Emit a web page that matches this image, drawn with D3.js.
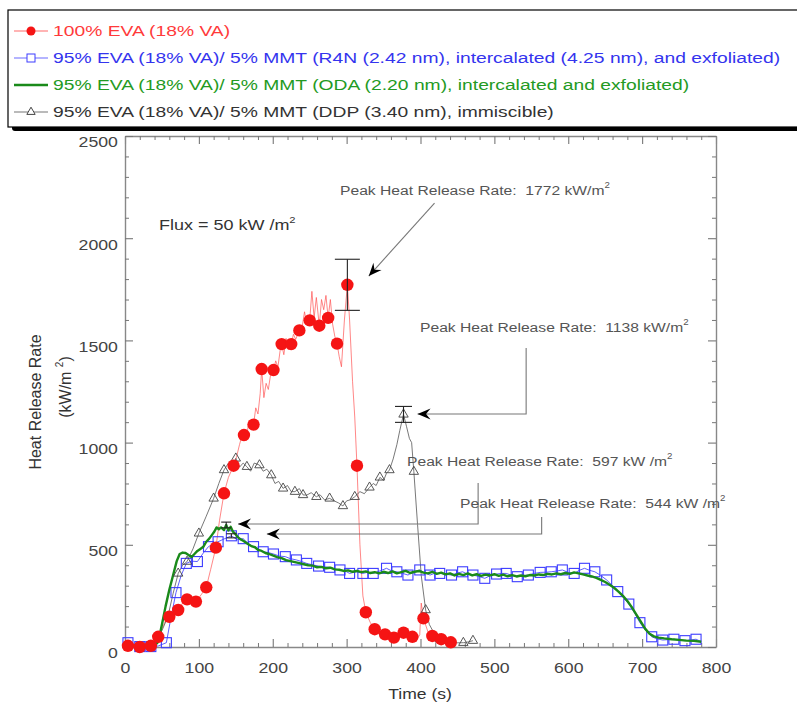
<!DOCTYPE html>
<html>
<head>
<meta charset="utf-8">
<script src="https://cdn.jsdelivr.net/npm/d3@7"></script>
<style>
  html, body { margin: 0; padding: 0; background: #fff; }
  svg { display: block; }
  text { white-space: pre; }
</style>
</head>
<body>
<script>
// ---- Heat release rate data (time in s, HRR in kW/m^2) ----

// 100% EVA (18% VA): plotted symbols and the underlying noisy trace
const evaMarkers = [[4,6],[20,0],[35,6],[45,50],[60,148],[72,181],[84,233],[96,222],[110,292],[123,486],[134,752],[147,887],[161,1037],[174,1088],[185,1360],[201,1355],[212,1482],[225,1482],[236,1549],[250,1598],[263,1572],[275,1610],[287,1484],[301,1772],[314,887],[326,170],[338,87],[352,62],[364,46],[377,70],[389,50],[404,140],[416,54],[428,38],[441,23]];
const evaTrace = [[0,10],[4,6],[8,2],[12,4],[20,0],[28,4],[35,6],[40,15],[45,50],[50,90],[55,130],[60,148],[66,165],[72,181],[78,215],[84,233],[90,228],[96,222],[103,255],[110,292],[116,380],[123,486],[128,620],[134,752],[140,830],[147,887],[151,930],[155,990],[158,1030],[161,1037],[164,1010],[167,1090],[170,1070],[174,1088],[177,1170],[180,1140],[183,1240],[185,1360],[188,1220],[191,1290],[194,1260],[197,1330],[201,1355],[204,1400],[207,1370],[210,1450],[212,1482],[215,1430],[218,1510],[221,1455],[225,1482],[228,1530],[231,1505],[236,1549],[240,1570],[243,1640],[246,1580],[250,1598],[253,1740],[256,1610],[259,1710],[263,1572],[266,1700],[269,1650],[272,1720],[275,1610],[278,1700],[281,1580],[284,1520],[287,1484],[290,1420],[293,1371],[297,1600],[301,1772],[304,1600],[308,1300],[311,1125],[314,887],[318,500],[322,250],[326,170],[332,120],[338,87],[345,72],[352,62],[358,55],[364,46],[370,58],[377,70],[383,60],[389,50],[395,35],[399,60],[401,215],[404,140],[410,75],[416,54],[422,45],[428,38],[435,30],[441,23]];

// 95% EVA / 5% MMT (R4N)
const r4nMarkers = [[4,21],[20,2],[35,2],[56,21],[69,266],[83,409],[98,418],[113,491],[126,515],[144,544],[160,530],[174,491],[187,466],[201,455],[217,442],[232,426],[246,409],[262,396],[277,390],[291,377],[304,360],[322,360],[336,360],[354,385],[368,368],[383,352],[399,377],[413,352],[426,360],[442,352],[457,368],[471,352],[487,336],[503,357],[516,360],[531,344],[546,352],[562,365],[577,368],[592,377],[608,360],[622,385],[636,368],[652,328],[667,271],[682,210],[697,119],[713,50],[728,34],[743,38],[758,31],[773,38]];
const r4nTrace = [[0,20],[4,21],[12,10],[20,2],[35,2],[45,5],[56,21],[62,140],[69,266],[76,350],[83,409],[90,420],[98,418],[106,460],[113,491],[120,505],[126,515],[135,530],[144,544],[152,525],[160,530],[167,505],[174,491],[180,480],[187,466],[194,462],[201,455],[209,445],[217,442],[224,432],[232,426],[239,418],[246,409],[254,402],[262,396],[270,392],[277,390],[284,382],[291,377],[298,372],[304,360],[313,368],[322,360],[329,366],[336,360],[345,372],[354,385],[361,372],[368,368],[376,360],[383,352],[391,368],[399,377],[406,362],[413,352],[420,362],[426,360],[434,356],[442,352],[450,362],[457,368],[464,356],[471,352],[479,345],[487,336],[495,350],[503,357],[510,360],[516,360],[524,350],[531,344],[539,350],[546,352],[554,360],[562,365],[570,366],[577,368],[585,372],[592,377],[600,365],[608,360],[615,375],[622,385],[629,375],[636,368],[644,350],[652,328],[660,300],[667,271],[675,240],[682,210],[690,165],[697,119],[705,80],[713,50],[720,40],[728,34],[735,36],[743,38],[750,33],[758,31],[766,35],[773,38],[780,26]];

// 95% EVA / 5% MMT (ODA)
const odaTrace = [[0,12],[10,8],[20,4],[30,4],[40,6],[45,25],[50,110],[55,200],[60,280],[65,350],[70,420],[74,455],[78,462],[82,460],[86,450],[90,440],[94,455],[98,470],[102,480],[106,490],[110,515],[114,530],[118,550],[121,565],[124,585],[127,576],[130,585],[134,572],[137,597],[140,570],[143,588],[146,565],[149,555],[152,540],[156,528],[160,520],[164,510],[168,500],[172,492],[176,488],[180,475],[185,470],[190,460],[195,455],[200,448],[206,440],[212,435],[218,425],[224,420],[230,415],[236,410],[242,405],[248,400],[254,398],[260,390],[266,392],[272,385],[278,388],[284,380],[290,378],[296,372],[302,375],[308,368],[314,372],[320,366],[326,370],[332,362],[338,366],[344,360],[350,368],[356,362],[362,370],[368,360],[374,366],[380,372],[386,362],[392,368],[398,372],[404,364],[410,360],[416,368],[422,358],[428,364],[434,355],[440,360],[446,350],[452,358],[458,352],[464,360],[470,350],[476,356],[482,348],[488,354],[494,350],[500,356],[506,348],[512,354],[518,346],[524,352],[530,345],[536,350],[542,346],[548,352],[554,350],[560,355],[566,352],[572,358],[578,355],[584,360],[590,356],[596,362],[602,358],[608,365],[614,360],[620,355],[626,350],[632,345],[638,338],[644,328],[650,318],[656,305],[662,290],[668,271],[674,250],[680,225],[686,195],[692,160],[698,125],[704,90],[710,65],[716,52],[722,46],[730,42],[740,38],[750,35],[760,31],[770,30],[780,26]];

// 95% EVA / 5% MMT (DDP)
const ddpMarkers = [[4,8],[20,0],[35,6],[58,148],[72,360],[84,418],[100,556],[120,727],[134,866],[150,923],[165,882],[182,890],[198,841],[214,776],[230,760],[241,744],[259,735],[277,727],[295,690],[311,735],[331,781],[345,830],[358,866],[377,1138],[391,858],[407,181],[426,38],[458,21],[471,31]];
const ddpTrace = [[0,10],[4,8],[12,4],[20,0],[28,3],[35,6],[42,25],[50,80],[58,148],[65,260],[72,360],[78,400],[84,418],[92,480],[100,556],[110,640],[120,727],[127,800],[134,866],[140,900],[145,880],[150,923],[155,880],[160,900],[165,882],[170,860],[175,900],[182,890],[187,860],[192,870],[198,841],[203,800],[208,810],[214,776],[220,790],[225,760],[230,760],[236,775],[241,744],[246,743],[252,755],[259,735],[264,745],[270,720],[277,727],[283,715],[289,705],[295,690],[300,715],[305,720],[311,735],[318,760],[324,750],[331,781],[336,800],[340,790],[345,830],[350,815],[354,850],[358,866],[363,920],[368,990],[372,1060],[377,1138],[381,1080],[385,1020],[388,1000],[391,858],[396,600],[401,350],[407,181],[412,110],[418,70],[426,38],[435,25],[445,20],[458,21],[465,25],[471,31]];

// Peak error bars: [time, peak, half-range]
const peakBars = [[301,1772,125],[377,1138,39],[137,597,14],[144,544,10]];

// Legend entries
const legendLabels = [
  "100% EVA (18% VA)",
  "95% EVA (18% VA)/ 5% MMT (R4N (2.42 nm), intercalated (4.25 nm), and exfoliated)",
  "95% EVA (18% VA)/ 5% MMT (ODA (2.20 nm), intercalated and exfoliated)",
  "95% EVA (18% VA)/ 5% MMT (DDP (3.40 nm), immiscible)"
];

// Axis ticks
const xMajorTicks = [0,100,200,300,400,500,600,700,800];
const yMajorTicks = [0,500,1000,1500,2000,2500];

// Peak callouts: label text and units
const peakLabels = ["Peak Heat Release Rate:  1772 kW/m", "Peak Heat Release Rate:  1138 kW/m", "Peak Heat Release Rate:  597 kW /m", "Peak Heat Release Rate:  544 kW /m"];

// ---- Drawing ----
const W = 797, H = 708;
const svg = d3.select("body").append("svg").attr("width", W).attr("height", H)
  .style("font-family", "'Liberation Sans', Arial, sans-serif");

const defs = svg.append("defs");
defs.append("marker").attr("id", "head").attr("viewBox", "-14 -6 15 12")
  .attr("refX", 0).attr("refY", 0).attr("markerWidth", 15).attr("markerHeight", 12)
  .attr("markerUnits", "userSpaceOnUse").attr("orient", "auto")
  .append("path").attr("d", "M0,0 L-13,-5.5 L-8.5,0 L-13,5.5 Z").attr("fill", "#000");

const x = d3.scaleLinear().domain([0, 800]).range([125, 716]);
const y = d3.scaleLinear().domain([0, 2500]).range([647, 136]);

// stretched text helper; parts = [[string, isSuperscript], ...]
function label(g, px, py, parts, o) {
  const t = g.append("text")
    .attr("transform", `translate(${px},${py}) scale(${o.sx || 1},1)`)
    .attr("font-size", o.size).attr("fill", o.fill || "#333")
    .attr("text-anchor", o.anchor || "start");
  let raised = false;
  parts.forEach(([s, sup]) => {
    const ts = t.append("tspan").text(s);
    if (sup) { ts.attr("font-size", o.size * 0.62).attr("dy", -o.size * 0.5); raised = true; }
    else if (raised) { ts.attr("dy", o.size * 0.5); raised = false; }
  });
  return t;
}

// ---- Axes frame ----
const axisColor = "#888";
const frame = svg.append("g");
function styleAxis(g) {
  g.select(".domain").attr("stroke", axisColor).attr("stroke-width", 1.4);
  g.selectAll(".tick line").attr("stroke", "#777").attr("stroke-width", 1.1);
}
const xMinor = d3.range(0, 801, 20).filter(v => v % 100 !== 0);
const yMinor = d3.range(0, 2501, 100).filter(v => v % 500 !== 0);

// bottom
const gB = frame.append("g").attr("transform", `translate(0,${y(0)})`)
  .call(d3.axisBottom(x).tickValues(xMajorTicks).tickSizeInner(-8).tickSizeOuter(0).tickPadding(15).tickFormat(d3.format("d")));
styleAxis(gB);
gB.selectAll(".tick text").attr("font-size", 15).attr("fill", "#444").attr("font-family", "'Liberation Sans', Arial, sans-serif").attr("transform", "scale(1.18,1)");
frame.append("g").attr("transform", `translate(0,${y(0)})`)
  .call(d3.axisBottom(x).tickValues(xMinor).tickSize(-4).tickFormat(""))
  .call(g => { g.select(".domain").remove(); g.selectAll("line").attr("stroke", "#777"); });
// top
const gT = frame.append("g").attr("transform", `translate(0,${y(2500)})`)
  .call(d3.axisTop(x).tickValues(xMajorTicks).tickSizeInner(-8).tickSizeOuter(0).tickFormat(""));
styleAxis(gT);
frame.append("g").attr("transform", `translate(0,${y(2500)})`)
  .call(d3.axisTop(x).tickValues(xMinor).tickSize(-4).tickFormat(""))
  .call(g => { g.select(".domain").remove(); g.selectAll("line").attr("stroke", "#777"); });
// left
const gL = frame.append("g").attr("transform", `translate(${x(0)},0)`)
  .call(d3.axisLeft(y).tickValues(yMajorTicks).tickSizeInner(-8).tickSizeOuter(0).tickPadding(6).tickFormat(d3.format("d")));
styleAxis(gL);
gL.selectAll(".tick text").attr("font-size", 15).attr("fill", "#444").attr("dy", "0.72em").attr("font-family", "'Liberation Sans', Arial, sans-serif").attr("transform", "scale(1.18,1)");
frame.append("g").attr("transform", `translate(${x(0)},0)`)
  .call(d3.axisLeft(y).tickValues(yMinor).tickSize(-4).tickFormat(""))
  .call(g => { g.select(".domain").remove(); g.selectAll("line").attr("stroke", "#777"); });
// right
const gR = frame.append("g").attr("transform", `translate(${x(800)},0)`)
  .call(d3.axisRight(y).tickValues(yMajorTicks).tickSizeInner(-8).tickSizeOuter(0).tickFormat(""));
styleAxis(gR);
frame.append("g").attr("transform", `translate(${x(800)},0)`)
  .call(d3.axisRight(y).tickValues(yMinor).tickSize(-4).tickFormat(""))
  .call(g => { g.select(".domain").remove(); g.selectAll("line").attr("stroke", "#777"); });

// axis titles
label(svg, 420, 699, [["Time (s)"]], { size: 15, sx: 1.17, anchor: "middle", fill: "#333" });
svg.append("text").attr("transform", "translate(41,402) rotate(-90)")
  .attr("text-anchor", "middle").attr("font-size", 16).attr("fill", "#333").text("Heat Release Rate");
const yt2 = svg.append("text").attr("transform", "translate(71,387) rotate(-90)")
  .attr("text-anchor", "middle").attr("font-size", 16).attr("fill", "#333");
yt2.append("tspan").text("(kW/m ");
yt2.append("tspan").text("2").attr("font-size", 10).attr("dy", -8);
yt2.append("tspan").text(")").attr("dy", 8);

// ---- Series ----
const line = d3.line().x(d => x(d[0])).y(d => y(d[1]));
const plot = svg.append("g");

plot.append("path").datum(evaTrace).attr("d", line).attr("fill", "none")
  .attr("stroke", "#ff4d4d").attr("stroke-width", 0.8).attr("stroke-opacity", 0.85);
plot.append("path").datum(ddpTrace).attr("d", line).attr("fill", "none")
  .attr("stroke", "#555").attr("stroke-width", 0.8);
plot.append("path").datum(r4nTrace).attr("d", line).attr("fill", "none")
  .attr("stroke", "#3535ff").attr("stroke-width", 0.8);
plot.selectAll(".sq").data(r4nMarkers).enter().append("rect")
  .attr("x", d => x(d[0]) - 5).attr("y", d => y(d[1]) - 5).attr("width", 10).attr("height", 10)
  .attr("fill", "none").attr("stroke", "#3c3cff").attr("stroke-width", 1.1);
plot.append("path").datum(odaTrace).attr("d", line).attr("fill", "none")
  .attr("stroke", "#1a8a1a").attr("stroke-width", 2.4).attr("stroke-linejoin", "round");
const tri = d3.symbol().type(d3.symbolTriangle).size(38);
plot.selectAll(".tri").data(ddpMarkers).enter().append("path")
  .attr("d", tri).attr("transform", d => `translate(${x(d[0])},${y(d[1])})`)
  .attr("fill", "none").attr("stroke", "#444").attr("stroke-width", 0.9);
plot.selectAll(".dot").data(evaMarkers).enter().append("circle")
  .attr("cx", d => x(d[0])).attr("cy", d => y(d[1])).attr("r", 6.2).attr("fill", "#f51414");

// error bars at the peaks
const capHalf = [12.5, 8.5, 5, 5];
peakBars.forEach(([t, v, e], i) => {
  const g = plot.append("g").attr("stroke", "#222").attr("stroke-width", 1.1);
  const cx = x(t);
  g.append("line").attr("x1", cx).attr("x2", cx).attr("y1", y(v + e)).attr("y2", y(v - e));
  g.append("line").attr("x1", cx - capHalf[i]).attr("x2", cx + capHalf[i]).attr("y1", y(v + e)).attr("y2", y(v + e));
  g.append("line").attr("x1", cx - capHalf[i]).attr("x2", cx + capHalf[i]).attr("y1", y(v - e)).attr("y2", y(v - e));
});

// ---- Peak callouts (connector paths in data units) ----
const callouts = [
  { pts: [[419, 2172], [330, 1815]], text: [340, 195] },
  { pts: [[543, 1463], [543, 1140], [396, 1140]], text: [420, 332] },
  { pts: [[478, 802], [478, 602], [153, 602]], text: [407, 466] },
  { pts: [[564, 636], [564, 553], [192, 553]], text: [460, 508] }
];
const ann = svg.append("g");
callouts.forEach((c, i) => {
  ann.append("path").datum(c.pts).attr("d", line).attr("fill", "none")
    .attr("stroke", "#777").attr("stroke-width", 1.1).attr("marker-end", "url(#head)");
  label(ann, c.text[0], c.text[1], [[peakLabels[i]], ["2", true]], { size: 13.5, sx: 1.16, fill: "#555" });
});
label(svg, 159, 230, [["Flux = 50 kW /m"], ["2", true]], { size: 15, sx: 1.2, fill: "#333" });

// ---- Legend ----
const leg = svg.append("g");
leg.append("rect").attr("x", 12).attr("y", 14).attr("width", 820).attr("height", 117).attr("rx", 3).attr("fill", "#000");
leg.append("rect").attr("x", 8).attr("y", 10).attr("width", 820).attr("height", 117).attr("fill", "#fff")
  .attr("stroke", "#000").attr("stroke-width", 1.2);
const legRows = [31, 58, 85, 112];
const legColors = ["#ff3a3a", "#3434ee", "#239a23", "#333"];
legendLabels.forEach((s, i) => {
  const cy = legRows[i];
  const g = leg.append("g");
  if (i === 0) {
    g.append("line").attr("x1", 14).attr("x2", 48).attr("y1", cy).attr("y2", cy).attr("stroke", "#ff6a6a").attr("stroke-width", 1.2);
    g.append("circle").attr("cx", 31).attr("cy", cy).attr("r", 4.5).attr("fill", "#f51414");
  } else if (i === 1) {
    g.append("line").attr("x1", 14).attr("x2", 48).attr("y1", cy).attr("y2", cy).attr("stroke", "#6a6aff").attr("stroke-width", 1.2);
    g.append("rect").attr("x", 27).attr("y", cy - 4).attr("width", 8).attr("height", 8).attr("fill", "#fff").attr("stroke", "#3c3cff");
  } else if (i === 2) {
    g.append("line").attr("x1", 14).attr("x2", 48).attr("y1", cy).attr("y2", cy).attr("stroke", "#1a8a1a").attr("stroke-width", 2.6);
  } else {
    g.append("line").attr("x1", 14).attr("x2", 48).attr("y1", cy).attr("y2", cy).attr("stroke", "#777").attr("stroke-width", 1.2);
    g.append("path").attr("d", d3.symbol().type(d3.symbolTriangle).size(30)).attr("transform", `translate(31,${cy})`)
      .attr("fill", "#fff").attr("stroke", "#444");
  }
  label(g, 53, cy + 5, [[s]], { size: 14.5, sx: 1.33, fill: legColors[i] });
});
</script>
</body>
</html>
